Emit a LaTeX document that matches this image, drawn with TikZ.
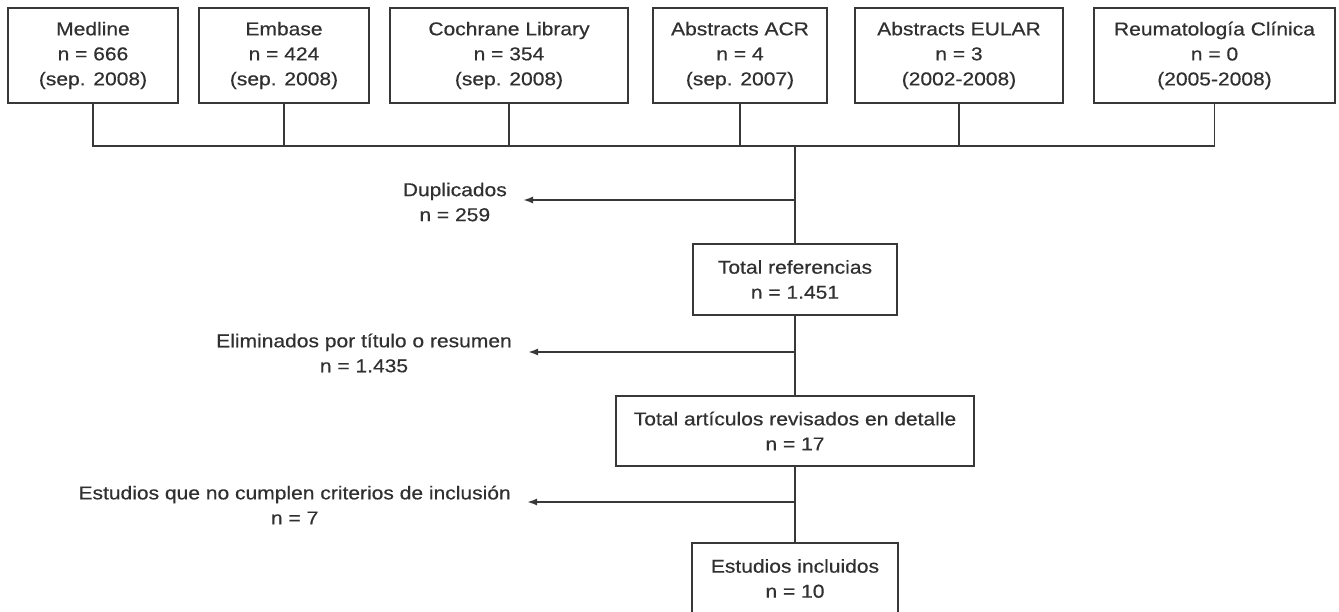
\documentclass[tikz,border=0pt]{standalone}
\usepackage{fontspec}
\setmainfont{Liberation Sans}[FakeStretch=1.13,FakeBold=0.5]
\usetikzlibrary{arrows.meta}
\definecolor{ln}{HTML}{383838}
\definecolor{tx}{HTML}{303030}
\tikzset{
  box/.style={draw=ln, line width=1.9pt, align=center, inner sep=0pt, text=tx,
    font=\fontsize{18.6}{25}\selectfont},
  lab/.style={align=center, inner xsep=16pt, inner ysep=0pt, text=tx,
    font=\fontsize{18.6}{25}\selectfont},
  conn/.style={draw=ln, line width=1.9pt},
  arr/.style={conn, -{Latex[length=10pt,width=7pt]}}
}
\begin{document}
\begin{tikzpicture}[x=1pt,y=-1pt]
\clip (0,0) rectangle (1339,611);
\useasboundingbox (0,0) rectangle (1339,611);
% top sources
\node[box, minimum width=170, minimum height=95] (med) at (93,55.5) {Medline\\n = 666\\(sep. 2008)};
\node[box, minimum width=170, minimum height=95] (emb) at (284,55.5) {Embase\\n = 424\\(sep. 2008)};
\node[box, minimum width=238, minimum height=95] (coc) at (509,55.5) {Cochrane Library\\n = 354\\(sep. 2008)};
\node[box, minimum width=174, minimum height=95] (acr) at (740,55.5) {Abstracts ACR\\n = 4\\(sep. 2007)};
\node[box, minimum width=208, minimum height=95] (eul) at (959,55.5) {Abstracts EULAR\\n = 3\\(2002-2008)};
\node[box, minimum width=241, minimum height=95] (reu) at (1214.5,55.5) {Reumatología Clínica\\n = 0\\(2005-2008)};
\coordinate (bar) at (795,146);
% flow boxes
\node[box, minimum width=204, minimum height=71] (tr) at (795,279.5) {Total referencias\\n = 1.451};
\node[box, minimum width=358, minimum height=70] (ta) at (795,431) {Total artículos revisados en detalle\\n = 17};
\node[box, minimum width=206, minimum height=71] (ei) at (795,578.5) {Estudios incluidos\\n = 10};
% collecting bar
\draw[conn] (med.south) -- (med.south |- bar) -- (reu.south |- bar) -- (reu.south);
\draw[conn] (emb.south) -- (emb.south |- bar);
\draw[conn] (coc.south) -- (coc.south |- bar);
\draw[conn] (acr.south) -- (acr.south |- bar);
\draw[conn] (eul.south) -- (eul.south |- bar);
% spine
\draw[conn] (bar) -- (tr.north);
\draw[conn] (tr.south) -- (ta.north);
\draw[conn] (ta.south) -- (ei.north);
% exclusions
\coordinate (j1) at (795,200);
\coordinate (j2) at (795,352);
\coordinate (j3) at (795,502);
\node[lab, anchor=east] (dup) at (523,202) {Duplicados\\n = 259};
\node[lab, anchor=east] (eli) at (528,353) {Eliminados por título o resumen\\n = 1.435};
\node[lab, anchor=east] (est) at (527,505) {Estudios que no cumplen criterios de inclusión\\n = 7};
\draw[arr] (j1) -- (j1 -| dup.east);
\draw[arr] (j2) -- (j2 -| eli.east);
\draw[arr] (j3) -- (j3 -| est.east);
\end{tikzpicture}
\end{document}
